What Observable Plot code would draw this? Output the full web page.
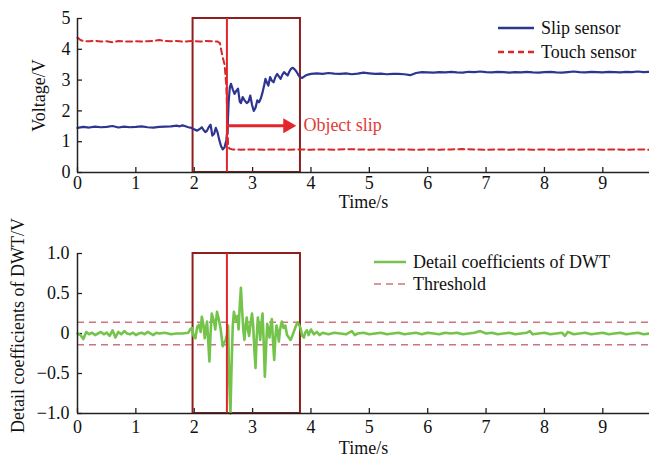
<!DOCTYPE html>
<html><head><meta charset="utf-8">
<script src="https://cdn.jsdelivr.net/npm/d3@7"></script>
<script src="https://cdn.jsdelivr.net/npm/@observablehq/plot@0.6"></script>
<style>
body{margin:0;background:#fff;}
#wrap{position:relative;width:649px;height:460px;overflow:hidden;font-family:"Liberation Serif",serif;background:#fff;}
#top,#bot,#leg{position:absolute;left:0;}
#top{top:0}
#bot{top:215px}
#leg{top:0;pointer-events:none}
</style></head><body>
<div id="wrap"><div id="top"></div><div id="bot"></div><svg id="leg" width="649" height="460"></svg></div>
<script>
// ---- data ----
const xTicks = [0,1,2,3,4,5,6,7,8,9];
const yTicksTop = [0,1,2,3,4,5];
const yTicksBot = [-1,-0.5,0,0.5,1];
const boxStart = 1.98, boxEnd = 3.82, slipTime = 2.56;
const threshold = 0.14;
const arrowY = 1.52, arrowFrom = 2.58, arrowTo = 3.55, arrowHead = 3.6;
const labelObj = "Object slip";

const slipSensor = [
[0,1.45],[0.1,1.48],[0.2,1.46],[0.3,1.49],[0.4,1.47],[0.5,1.48],[0.6,1.51],[0.7,1.46],[0.8,1.49],[0.9,1.47],
[1.0,1.48],[1.1,1.5],[1.2,1.47],[1.3,1.46],[1.4,1.48],[1.5,1.49],[1.6,1.5],[1.7,1.52],[1.75,1.5],[1.8,1.53],
[1.85,1.5],[1.9,1.47],[1.95,1.45],[2.0,1.4],[2.05,1.36],[2.1,1.42],[2.13,1.47],[2.16,1.38],[2.19,1.31],[2.22,1.36],
[2.25,1.48],[2.28,1.55],[2.31,1.2],[2.34,1.25],[2.37,1.45],[2.4,1.3],[2.43,1.05],[2.46,0.85],[2.49,0.75],[2.52,0.82],
[2.55,1.05],[2.57,1.4],[2.59,2.3],[2.61,2.77],[2.63,2.88],[2.66,2.7],[2.69,2.55],[2.72,2.65],[2.75,2.72],[2.78,2.3],
[2.8,2.25],[2.83,2.45],[2.86,2.35],[2.9,2.25],[2.93,2.3],[2.96,2.5],[2.99,2.2],[3.02,2.0],[3.05,2.1],[3.08,2.34],
[3.11,2.28],[3.14,2.4],[3.17,2.6],[3.2,2.85],[3.22,3.04],[3.25,2.9],[3.27,2.82],[3.3,3.1],[3.33,2.98],[3.36,2.93],
[3.39,3.1],[3.42,3.2],[3.45,3.12],[3.48,3.04],[3.51,3.18],[3.54,3.26],[3.57,3.2],[3.6,3.15],[3.63,3.28],[3.66,3.37],
[3.69,3.4],[3.72,3.35],[3.75,3.28],[3.78,3.18],[3.81,3.1],[3.85,3.07],[3.9,3.14],[3.95,3.18],[4.0,3.2],[4.1,3.22],
[4.2,3.2],[4.3,3.23],[4.4,3.21],[4.5,3.2],[4.6,3.22],[4.7,3.19],[4.8,3.21],[4.9,3.24],[5.0,3.22],[5.1,3.2],
[5.2,3.21],[5.3,3.19],[5.4,3.2],[5.5,3.2],[5.6,3.19],[5.7,3.16],[5.8,3.23],[5.9,3.26],[6.0,3.25],[6.1,3.24],
[6.2,3.26],[6.3,3.25],[6.4,3.27],[6.5,3.25],[6.6,3.24],[6.7,3.27],[6.8,3.26],[6.9,3.28],[7.0,3.26],[7.1,3.25],
[7.2,3.27],[7.3,3.26],[7.4,3.24],[7.5,3.26],[7.6,3.25],[7.7,3.27],[7.8,3.25],[7.9,3.24],[8.0,3.26],[8.1,3.27],
[8.2,3.25],[8.3,3.24],[8.4,3.26],[8.5,3.28],[8.6,3.26],[8.7,3.25],[8.8,3.27],[8.9,3.26],[9.0,3.25],[9.1,3.27],
[9.2,3.26],[9.3,3.25],[9.4,3.27],[9.5,3.26],[9.6,3.28],[9.7,3.26],[9.8,3.27]
];

const touchSensor = [
[0,4.38],[0.05,4.3],[0.1,4.27],[0.2,4.26],[0.3,4.28],[0.4,4.25],[0.5,4.26],[0.6,4.23],[0.7,4.27],[0.8,4.26],
[0.9,4.25],[1.0,4.26],[1.1,4.25],[1.2,4.26],[1.3,4.27],[1.4,4.3],[1.5,4.27],[1.6,4.26],[1.7,4.27],[1.8,4.25],
[1.9,4.26],[2.0,4.27],[2.1,4.25],[2.2,4.27],[2.3,4.26],[2.4,4.25],[2.44,4.2],[2.48,3.8],[2.52,3.5],[2.55,2.8],
[2.57,1.6],[2.58,0.9],[2.6,0.78],[2.65,0.75],[2.8,0.74],[3.0,0.75],[3.2,0.74],[3.4,0.75],[3.6,0.74],[3.8,0.75],
[4.0,0.74],[4.2,0.75],[4.4,0.74],[4.6,0.76],[4.8,0.75],[5.0,0.74],[5.2,0.75],[5.4,0.74],[5.6,0.75],[5.8,0.74],
[6.0,0.75],[6.2,0.74],[6.4,0.75],[6.6,0.76],[6.8,0.75],[7.0,0.74],[7.2,0.75],[7.4,0.74],[7.6,0.75],[7.8,0.74],
[8.0,0.75],[8.2,0.74],[8.4,0.75],[8.6,0.74],[8.8,0.75],[9.0,0.74],[9.2,0.75],[9.4,0.74],[9.6,0.75],[9.8,0.74]
];

const dwtDetail = [
[0,0.0],[0.05,-0.02],[0.1,-0.07],[0.15,0.02],[0.2,-0.01],[0.25,0.01],[0.3,-0.02],[0.35,0.0],[0.4,0.02],[0.45,-0.01],
[0.5,0.01],[0.55,-0.03],[0.6,0.04],[0.65,-0.05],[0.7,0.02],[0.75,-0.01],[0.8,0.03],[0.85,0.0],[0.9,-0.01],[0.95,0.01],
[1.0,-0.02],[1.05,0.0],[1.1,0.01],[1.15,-0.01],[1.2,0.02],[1.3,-0.02],[1.35,0.01],[1.4,0.0],[1.5,0.01],[1.6,-0.01],
[1.7,0.0],[1.8,0.0],[1.9,0.01],[1.93,0.05],[1.96,0.07],[1.99,-0.03],[2.02,-0.06],[2.05,0.08],[2.08,0.11],[2.11,0.02],
[2.13,0.21],[2.16,0.1],[2.18,-0.06],[2.2,0.05],[2.22,0.15],[2.24,-0.1],[2.26,-0.35],[2.28,0.0],[2.3,0.25],[2.32,0.2],
[2.34,0.15],[2.36,0.05],[2.39,0.27],[2.42,0.18],[2.45,0.07],[2.47,-0.05],[2.49,-0.16],[2.51,-0.12],[2.53,-0.1],[2.56,-0.02],
[2.58,0.1],[2.6,-0.6],[2.62,-1.0],[2.64,-0.4],[2.66,0.1],[2.68,0.27],[2.7,0.2],[2.72,0.15],[2.74,0.22],[2.76,0.05],
[2.78,0.35],[2.8,0.57],[2.82,0.3],[2.84,0.05],[2.86,-0.08],[2.88,0.1],[2.9,0.2],[2.92,0.05],[2.94,-0.03],[2.97,0.15],
[2.99,0.25],[3.01,0.1],[3.03,-0.2],[3.05,-0.43],[3.07,-0.05],[3.09,0.2],[3.11,0.1],[3.13,-0.08],[3.15,0.1],[3.17,0.25],
[3.19,-0.1],[3.21,-0.54],[3.23,-0.2],[3.25,0.12],[3.27,0.05],[3.29,-0.05],[3.31,0.1],[3.33,0.18],[3.35,-0.1],[3.37,-0.33],
[3.39,-0.05],[3.41,0.1],[3.43,0.02],[3.45,-0.1],[3.47,0.05],[3.5,0.15],[3.53,0.07],[3.56,0.1],[3.59,-0.02],[3.62,-0.05],
[3.65,-0.08],[3.68,-0.03],[3.71,0.03],[3.74,0.09],[3.77,0.14],[3.8,0.1],[3.82,0.07],[3.85,-0.03],[3.88,-0.05],[3.9,0.01],
[3.93,0.04],[3.96,-0.02],[4.0,0.05],[4.05,-0.01],[4.1,0.02],[4.15,-0.02],[4.2,0.01],[4.3,-0.01],[4.4,0.01],[4.5,0.0],
[4.6,-0.01],[4.7,0.03],[4.75,-0.02],[4.8,0.0],[4.9,0.01],[5.0,-0.01],[5.1,0.0],[5.2,0.01],[5.3,-0.01],[5.4,0.0],
[5.5,0.01],[5.6,-0.01],[5.7,0.0],[5.8,0.01],[5.9,-0.01],[6.0,0.01],[6.1,0.0],[6.2,-0.01],[6.3,0.01],[6.4,0.0],
[6.5,0.01],[6.6,-0.01],[6.7,0.0],[6.8,0.01],[6.9,0.03],[7.0,0.0],[7.1,0.01],[7.2,-0.01],[7.3,0.0],[7.4,0.01],
[7.5,-0.01],[7.6,0.0],[7.7,0.01],[7.75,0.03],[7.8,-0.01],[7.9,0.0],[8.0,0.01],[8.1,-0.01],[8.2,0.0],[8.3,0.01],
[8.35,-0.03],[8.4,0.02],[8.5,-0.01],[8.6,0.0],[8.7,0.01],[8.8,-0.01],[8.9,0.0],[9.0,0.01],[9.1,-0.01],[9.2,0.0],
[9.3,0.01],[9.4,-0.01],[9.5,0.0],[9.6,0.01],[9.7,-0.01],[9.8,0.0]
];

// ---- styles ----
const font = '"Liberation Serif", serif';
const fs = 18;
const axisColor = "#222";
const blue = "#2e3590", red = "#d6292b", boxRed = "#8e1f1f", lineRed = "#e3262b";
const green = "#74c34b", thrColor = "#c9777e";
const fmtTop = d => String(d);
const fmtBot = d => d === 0 ? "0" : (d < 0 ? "\u2212" : "") + Math.abs(d).toFixed(1);

const topPlot = Plot.plot({
  width: 649, height: 220, marginTop: 18, marginBottom: 48, marginLeft: 77, marginRight: 0,
  style: {fontFamily: font, fontSize: fs + "px", color: "#111", background: "transparent", overflow: "visible"},
  x: {domain: [0, 9.8]},
  y: {domain: [0, 5]},
  marks: [
    Plot.axisX({ticks: xTicks, tickFormat: fmtTop, tickSize: -5, tickPadding: 9, label: null, stroke: axisColor, strokeWidth: 1.3, fontSize: fs}),
    Plot.axisY({ticks: yTicksTop, tickFormat: fmtTop, tickSize: -5, tickPadding: 12, label: null, stroke: axisColor, strokeWidth: 1.3, fontSize: fs}),
    Plot.rect([{x1: boxStart, x2: boxEnd}], {x1: "x1", x2: "x2", y1: 0, y2: 5, fill: "none", stroke: boxRed, strokeWidth: 2}),
    Plot.line(touchSensor, {x: d => d[0], y: d => d[1], stroke: red, strokeWidth: 2, strokeDasharray: "6,4"}),
    Plot.line(slipSensor, {x: d => d[0], y: d => d[1], stroke: blue, strokeWidth: 2.2}),
    Plot.link([{a: arrowFrom, b: arrowTo, y: arrowY}], {x1: "a", x2: "b", y1: "y", y2: "y", stroke: lineRed, strokeWidth: 3}),
    Plot.dot([{x: arrowHead, y: arrowY}], {x: "x", y: "y", symbol: "triangle", rotate: 90, r: 5.6, fill: lineRed, stroke: "none"}),
    Plot.text([labelObj], {x: 3.87, y: arrowY, text: d => d, textAnchor: "start", fill: "#df3b36", fontSize: fs}),
    Plot.ruleX([slipTime], {stroke: lineRed, strokeWidth: 2}),
    Plot.ruleX([0], {stroke: axisColor, strokeWidth: 1.5}),
    Plot.ruleY([0], {stroke: axisColor, strokeWidth: 1.5}),
    Plot.text(["Time/s"], {frameAnchor: "bottom", textAnchor: "middle", dy: 35, fontSize: fs, fill: "#111"}),
    Plot.text(["Voltage/V"], {frameAnchor: "left", textAnchor: "middle", dx: -38, rotate: -90, fontSize: fs, fill: "#111"})
  ]
});
document.getElementById("top").appendChild(topPlot);

const botPlot = Plot.plot({
  width: 649, height: 245, marginTop: 38, marginBottom: 47, marginLeft: 77, marginRight: 0,
  style: {fontFamily: font, fontSize: fs + "px", color: "#111", background: "transparent", overflow: "visible"},
  x: {domain: [0, 9.8]},
  y: {domain: [-1, 1]},
  marks: [
    Plot.axisX({ticks: xTicks, tickFormat: fmtTop, tickSize: -5, tickPadding: 12, label: null, stroke: axisColor, strokeWidth: 1.3, fontSize: fs}),
    Plot.axisY({ticks: yTicksBot, tickFormat: fmtBot, tickSize: -5, tickPadding: 13, label: null, stroke: axisColor, strokeWidth: 1.3, fontSize: fs}),
    Plot.ruleY([threshold, -threshold], {stroke: thrColor, strokeWidth: 1.4, strokeDasharray: "7,5"}),
    Plot.rect([{x1: boxStart, x2: boxEnd}], {x1: "x1", x2: "x2", y1: -1, y2: 1, fill: "none", stroke: boxRed, strokeWidth: 2}),
    Plot.line(dwtDetail, {x: d => d[0], y: d => d[1], stroke: green, strokeWidth: 2.6}),
    Plot.ruleX([slipTime], {stroke: lineRed, strokeWidth: 2}),
    Plot.ruleX([0], {stroke: axisColor, strokeWidth: 1.5}),
    Plot.ruleY([-1], {stroke: axisColor, strokeWidth: 1.5}),
    Plot.text(["Time/s"], {frameAnchor: "bottom", textAnchor: "middle", dy: 40, fontSize: fs, fill: "#111"}),
    Plot.text(["Detail coefficients of DWT/V"], {frameAnchor: "left", textAnchor: "middle", dx: -59, dy: -8, rotate: -90, fontSize: fs, fill: "#111"})
  ]
});
document.getElementById("bot").appendChild(botPlot);

// ---- legends ----
const legendItems = [
  {x: 498, y: 28, label: "Slip sensor", color: blue, dash: null, w: 2.5},
  {x: 498, y: 52, label: "Touch sensor", color: red, dash: "6,4", w: 2.5},
  {x: 374, y: 262, label: "Detail coefficients of DWT", color: green, dash: null, w: 2.5},
  {x: 374, y: 284, label: "Threshold", color: thrColor, dash: "7,5", w: 1.4}
];
const leg = d3.select("#leg");
legendItems.forEach((d, i) => {
  const len = i < 2 ? 36 : 32;
  leg.append("line").attr("x1", d.x).attr("x2", d.x + len).attr("y1", d.y).attr("y2", d.y)
    .attr("stroke", d.color).attr("stroke-width", d.w).attr("stroke-dasharray", d.dash);
  leg.append("text").attr("x", d.x + len + 7).attr("y", d.y).attr("dy", "0.32em")
    .style("font-family", font).style("font-size", fs + "px").attr("fill", "#111").text(d.label);
});
</script>
</body></html>
